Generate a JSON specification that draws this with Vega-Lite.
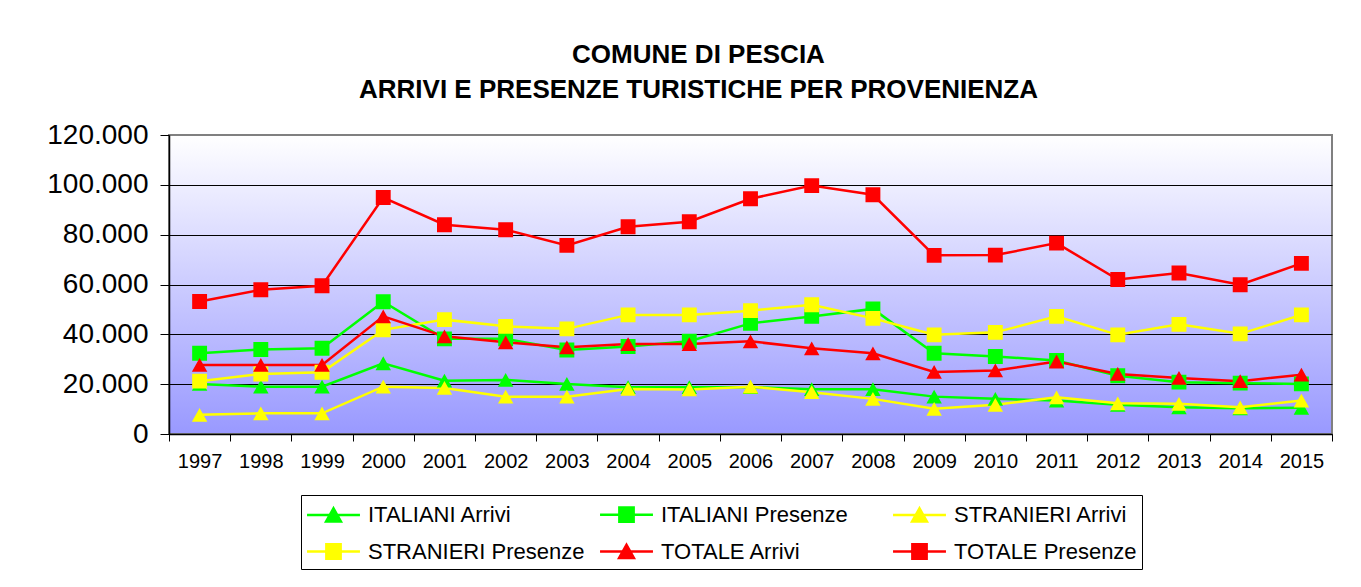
{
  "$schema": "https://vega.github.io/schema/vega-lite/v6.json",
  "width": 1163,
  "height": 299,
  "autosize": {"type": "none"},
  "padding": {"left": 169, "top": 135, "right": 29, "bottom": 153},
  "background": "white",
  "title": {
    "text": ["COMUNE DI PESCIA", "ARRIVI E PRESENZE TURISTICHE PER PROVENIENZA"],
    "font": "Liberation Sans",
    "fontSize": 26,
    "fontWeight": "bold",
    "color": "black",
    "lineHeight": 35,
    "anchor": "middle",
    "frame": "group",
    "dx": -52,
    "offset": 18
  },
  "data": {
    "values": [
      {"anno": "1997", "serie": "ITALIANI Arrivi", "valore": 20100},
      {"anno": "1998", "serie": "ITALIANI Arrivi", "valore": 19000},
      {"anno": "1999", "serie": "ITALIANI Arrivi", "valore": 19000},
      {"anno": "2000", "serie": "ITALIANI Arrivi", "valore": 28400},
      {"anno": "2001", "serie": "ITALIANI Arrivi", "valore": 21400},
      {"anno": "2002", "serie": "ITALIANI Arrivi", "valore": 21700},
      {"anno": "2003", "serie": "ITALIANI Arrivi", "valore": 20100},
      {"anno": "2004", "serie": "ITALIANI Arrivi", "valore": 18800},
      {"anno": "2005", "serie": "ITALIANI Arrivi", "valore": 18800},
      {"anno": "2006", "serie": "ITALIANI Arrivi", "valore": 18800},
      {"anno": "2007", "serie": "ITALIANI Arrivi", "valore": 18000},
      {"anno": "2008", "serie": "ITALIANI Arrivi", "valore": 18000},
      {"anno": "2009", "serie": "ITALIANI Arrivi", "valore": 15000},
      {"anno": "2010", "serie": "ITALIANI Arrivi", "valore": 14100},
      {"anno": "2011", "serie": "ITALIANI Arrivi", "valore": 13400},
      {"anno": "2012", "serie": "ITALIANI Arrivi", "valore": 11700},
      {"anno": "2013", "serie": "ITALIANI Arrivi", "valore": 10700},
      {"anno": "2014", "serie": "ITALIANI Arrivi", "valore": 10300},
      {"anno": "2015", "serie": "ITALIANI Arrivi", "valore": 10500},
      {"anno": "1997", "serie": "ITALIANI Presenze", "valore": 32400},
      {"anno": "1998", "serie": "ITALIANI Presenze", "valore": 33900},
      {"anno": "1999", "serie": "ITALIANI Presenze", "valore": 34400},
      {"anno": "2000", "serie": "ITALIANI Presenze", "valore": 53100},
      {"anno": "2001", "serie": "ITALIANI Presenze", "valore": 38200},
      {"anno": "2002", "serie": "ITALIANI Presenze", "valore": 38200},
      {"anno": "2003", "serie": "ITALIANI Presenze", "valore": 33700},
      {"anno": "2004", "serie": "ITALIANI Presenze", "valore": 35100},
      {"anno": "2005", "serie": "ITALIANI Presenze", "valore": 37200},
      {"anno": "2006", "serie": "ITALIANI Presenze", "valore": 44400},
      {"anno": "2007", "serie": "ITALIANI Presenze", "valore": 47200},
      {"anno": "2008", "serie": "ITALIANI Presenze", "valore": 50200},
      {"anno": "2009", "serie": "ITALIANI Presenze", "valore": 32400},
      {"anno": "2010", "serie": "ITALIANI Presenze", "valore": 31100},
      {"anno": "2011", "serie": "ITALIANI Presenze", "valore": 29500},
      {"anno": "2012", "serie": "ITALIANI Presenze", "valore": 23400},
      {"anno": "2013", "serie": "ITALIANI Presenze", "valore": 20800},
      {"anno": "2014", "serie": "ITALIANI Presenze", "valore": 20400},
      {"anno": "2015", "serie": "ITALIANI Presenze", "valore": 20100},
      {"anno": "1997", "serie": "STRANIERI Arrivi", "valore": 7700},
      {"anno": "1998", "serie": "STRANIERI Arrivi", "valore": 8300},
      {"anno": "1999", "serie": "STRANIERI Arrivi", "valore": 8300},
      {"anno": "2000", "serie": "STRANIERI Arrivi", "valore": 19000},
      {"anno": "2001", "serie": "STRANIERI Arrivi", "valore": 18500},
      {"anno": "2002", "serie": "STRANIERI Arrivi", "valore": 15000},
      {"anno": "2003", "serie": "STRANIERI Arrivi", "valore": 15000},
      {"anno": "2004", "serie": "STRANIERI Arrivi", "valore": 18100},
      {"anno": "2005", "serie": "STRANIERI Arrivi", "valore": 17900},
      {"anno": "2006", "serie": "STRANIERI Arrivi", "valore": 19000},
      {"anno": "2007", "serie": "STRANIERI Arrivi", "valore": 16800},
      {"anno": "2008", "serie": "STRANIERI Arrivi", "valore": 14100},
      {"anno": "2009", "serie": "STRANIERI Arrivi", "valore": 10100},
      {"anno": "2010", "serie": "STRANIERI Arrivi", "valore": 11700},
      {"anno": "2011", "serie": "STRANIERI Arrivi", "valore": 14700},
      {"anno": "2012", "serie": "STRANIERI Arrivi", "valore": 12300},
      {"anno": "2013", "serie": "STRANIERI Arrivi", "valore": 12100},
      {"anno": "2014", "serie": "STRANIERI Arrivi", "valore": 10700},
      {"anno": "2015", "serie": "STRANIERI Arrivi", "valore": 13400},
      {"anno": "1997", "serie": "STRANIERI Presenze", "valore": 21200},
      {"anno": "1998", "serie": "STRANIERI Presenze", "valore": 24100},
      {"anno": "1999", "serie": "STRANIERI Presenze", "valore": 24800},
      {"anno": "2000", "serie": "STRANIERI Presenze", "valore": 41800},
      {"anno": "2001", "serie": "STRANIERI Presenze", "valore": 45900},
      {"anno": "2002", "serie": "STRANIERI Presenze", "valore": 43200},
      {"anno": "2003", "serie": "STRANIERI Presenze", "valore": 42200},
      {"anno": "2004", "serie": "STRANIERI Presenze", "valore": 47800},
      {"anno": "2005", "serie": "STRANIERI Presenze", "valore": 47800},
      {"anno": "2006", "serie": "STRANIERI Presenze", "valore": 49500},
      {"anno": "2007", "serie": "STRANIERI Presenze", "valore": 51900},
      {"anno": "2008", "serie": "STRANIERI Presenze", "valore": 46400},
      {"anno": "2009", "serie": "STRANIERI Presenze", "valore": 39800},
      {"anno": "2010", "serie": "STRANIERI Presenze", "valore": 40800},
      {"anno": "2011", "serie": "STRANIERI Presenze", "valore": 47200},
      {"anno": "2012", "serie": "STRANIERI Presenze", "valore": 39800},
      {"anno": "2013", "serie": "STRANIERI Presenze", "valore": 44000},
      {"anno": "2014", "serie": "STRANIERI Presenze", "valore": 40200},
      {"anno": "2015", "serie": "STRANIERI Presenze", "valore": 47800},
      {"anno": "1997", "serie": "TOTALE Arrivi", "valore": 27700},
      {"anno": "1998", "serie": "TOTALE Arrivi", "valore": 27700},
      {"anno": "1999", "serie": "TOTALE Arrivi", "valore": 27700},
      {"anno": "2000", "serie": "TOTALE Arrivi", "valore": 47200},
      {"anno": "2001", "serie": "TOTALE Arrivi", "valore": 39200},
      {"anno": "2002", "serie": "TOTALE Arrivi", "valore": 36800},
      {"anno": "2003", "serie": "TOTALE Arrivi", "valore": 34800},
      {"anno": "2004", "serie": "TOTALE Arrivi", "valore": 36100},
      {"anno": "2005", "serie": "TOTALE Arrivi", "valore": 36100},
      {"anno": "2006", "serie": "TOTALE Arrivi", "valore": 37200},
      {"anno": "2007", "serie": "TOTALE Arrivi", "valore": 34400},
      {"anno": "2008", "serie": "TOTALE Arrivi", "valore": 32400},
      {"anno": "2009", "serie": "TOTALE Arrivi", "valore": 24900},
      {"anno": "2010", "serie": "TOTALE Arrivi", "valore": 25500},
      {"anno": "2011", "serie": "TOTALE Arrivi", "valore": 29100},
      {"anno": "2012", "serie": "TOTALE Arrivi", "valore": 24100},
      {"anno": "2013", "serie": "TOTALE Arrivi", "valore": 22500},
      {"anno": "2014", "serie": "TOTALE Arrivi", "valore": 21200},
      {"anno": "2015", "serie": "TOTALE Arrivi", "valore": 23800},
      {"anno": "1997", "serie": "TOTALE Presenze", "valore": 53200},
      {"anno": "1998", "serie": "TOTALE Presenze", "valore": 57900},
      {"anno": "1999", "serie": "TOTALE Presenze", "valore": 59500},
      {"anno": "2000", "serie": "TOTALE Presenze", "valore": 94900},
      {"anno": "2001", "serie": "TOTALE Presenze", "valore": 84000},
      {"anno": "2002", "serie": "TOTALE Presenze", "valore": 82000},
      {"anno": "2003", "serie": "TOTALE Presenze", "valore": 75700},
      {"anno": "2004", "serie": "TOTALE Presenze", "valore": 83200},
      {"anno": "2005", "serie": "TOTALE Presenze", "valore": 85200},
      {"anno": "2006", "serie": "TOTALE Presenze", "valore": 94400},
      {"anno": "2007", "serie": "TOTALE Presenze", "valore": 99700},
      {"anno": "2008", "serie": "TOTALE Presenze", "valore": 96000},
      {"anno": "2009", "serie": "TOTALE Presenze", "valore": 71700},
      {"anno": "2010", "serie": "TOTALE Presenze", "valore": 71800},
      {"anno": "2011", "serie": "TOTALE Presenze", "valore": 76600},
      {"anno": "2012", "serie": "TOTALE Presenze", "valore": 62000},
      {"anno": "2013", "serie": "TOTALE Presenze", "valore": 64600},
      {"anno": "2014", "serie": "TOTALE Presenze", "valore": 59900},
      {"anno": "2015", "serie": "TOTALE Presenze", "valore": 68500}
    ]
  },
  "encoding": {
    "x": {
      "field": "anno",
      "type": "ordinal",
      "scale": {"type": "band", "paddingInner": 0, "paddingOuter": 0},
      "axis": {
        "title": null,
        "labelAngle": 0,
        "labelFont": "Liberation Sans",
        "labelFontSize": 20,
        "labelColor": "black",
        "tickBand": "extent",
        "tickSize": 7,
        "tickColor": "black",
        "domainColor": "black",
        "domainWidth": 1.5,
        "labelPadding": 10,
        "grid": false
      }
    },
    "y": {
      "field": "valore",
      "type": "quantitative",
      "scale": {"domain": [0, 120000], "nice": false},
      "axis": {
        "title": null,
        "values": [0, 20000, 40000, 60000, 80000, 100000, 120000],
        "labelExpr": "replace(format(datum.value, ','), ',', '.')",
        "labelFont": "Liberation Sans",
        "labelFontSize": 28,
        "labelColor": "black",
        "tickSize": 9,
        "tickColor": "black",
        "domainColor": "black",
        "domainWidth": 1.5,
        "labelPadding": 12,
        "grid": true,
        "gridColor": {"condition": {"test": "datum.value === 120000", "value": "#808080"}, "value": "black"},
        "gridOpacity": 1,
        "gridWidth": 1
      }
    }
  },
  "layer": [
    {
      "mark": {"type": "line", "strokeWidth": 2.5},
      "encoding": {
        "stroke": {
          "field": "serie",
          "type": "nominal",
          "scale": {
            "domain": ["ITALIANI Arrivi", "ITALIANI Presenze", "STRANIERI Arrivi", "STRANIERI Presenze", "TOTALE Arrivi", "TOTALE Presenze"],
            "range": ["#00FF00", "#00FF00", "#FFFF00", "#FFFF00", "#FF0000", "#FF0000"]
          }
        }
      }
    },
    {
      "mark": {"type": "point", "filled": true, "opacity": 1, "size": 760},
      "encoding": {
        "color": {
          "field": "serie",
          "type": "nominal",
          "scale": {
            "domain": ["ITALIANI Arrivi", "ITALIANI Presenze", "STRANIERI Arrivi", "STRANIERI Presenze", "TOTALE Arrivi", "TOTALE Presenze"],
            "range": ["#00FF00", "#00FF00", "#FFFF00", "#FFFF00", "#FF0000", "#FF0000"]
          }
        },
        "shape": {
          "field": "serie",
          "type": "nominal",
          "scale": {
            "domain": ["ITALIANI Arrivi", "ITALIANI Presenze", "STRANIERI Arrivi", "STRANIERI Presenze", "TOTALE Arrivi", "TOTALE Presenze"],
            "range": [
              "M-2,0H2M0,-0.5L0.56,0.5L-0.56,0.5Z",
              "M-2,0H2M-0.54,-0.54H0.54V0.54H-0.54Z",
              "M-2,0H2M0,-0.5L0.56,0.5L-0.56,0.5Z",
              "M-2,0H2M-0.54,-0.54H0.54V0.54H-0.54Z",
              "M-2,0H2M0,-0.5L0.56,0.5L-0.56,0.5Z",
              "M-2,0H2M-0.54,-0.54H0.54V0.54H-0.54Z"
            ]
          }
        }
      }
    }
  ],
  "config": {
    "view": {
      "fill": {
        "gradient": "linear",
        "x1": 0, "y1": 0, "x2": 0, "y2": 1,
        "stops": [{"offset": 0, "color": "#FFFFFF"}, {"offset": 1, "color": "#9999FF"}]
      },
      "stroke": "#808080",
      "strokeWidth": 2
    },
    "legend": {
      "orient": "none",
      "legendX": 132,
      "legendY": 360,
      "columns": 3,
      "direction": "horizontal",
      "title": null,
      "labelFont": "Liberation Sans",
      "labelFontSize": 22,
      "labelColor": "black",
      "labelLimit": 0,
      "symbolSize": 700,
      "strokeColor": "black",
      "fillColor": "white",
      "padding": 5,
      "rowPadding": 10,
      "columnPadding": 10,
      "gridAlign": "all",
      "symbolOffset": 13,
      "labelOffset": 20,
      "symbolStrokeWidth": 2.5
    }
  }
}
